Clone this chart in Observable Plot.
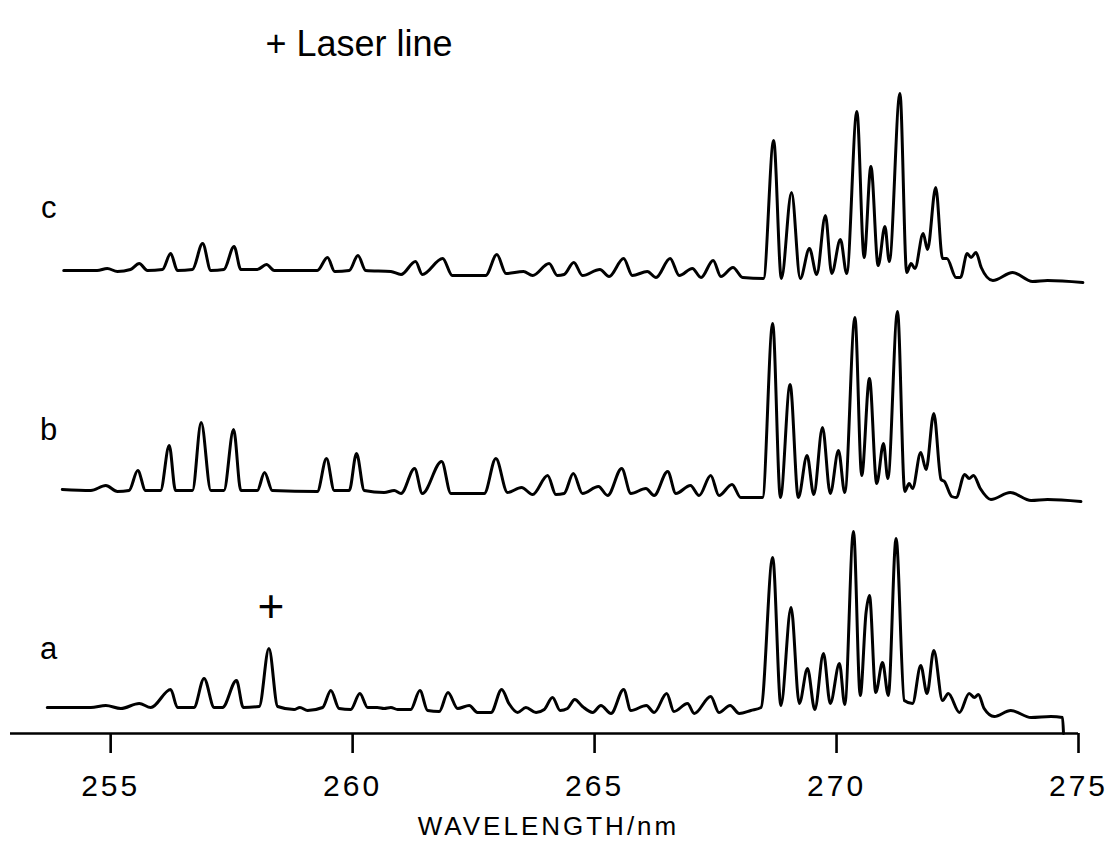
<!DOCTYPE html>
<html><head><meta charset="utf-8">
<script src="https://cdn.jsdelivr.net/npm/d3@7"></script>
<script src="https://cdn.jsdelivr.net/npm/@observablehq/plot@0.6"></script>
<style>body{margin:0;background:#fff;} svg{display:block}</style>
</head><body><div id="chart"></div>
<script>
// Spectra a, b, c (wavelength in nm, intensity in arbitrary units above each trace's baseline)
const traceNames = ["a", "b", "c"];
const traceOffsets = [26, 243, 463]; // vertical stacking offsets (arbitrary units)

const aWavelength = [253.69,254.59,254.90,255.21,255.59,255.83,256.24,256.38,256.72,256.93,257.14,257.31,257.60,257.74,258.07,258.27,258.45,258.79,258.91,259.07,259.38,259.55,259.72,259.96,260.15,260.31,260.51,260.65,260.79,260.93,261.20,261.39,261.55,261.79,261.97,262.17,262.41,262.58,262.86,263.08,263.23,263.41,263.58,263.79,263.96,264.13,264.29,264.44,264.59,264.75,264.96,265.13,265.34,265.60,265.75,266.07,266.23,266.49,266.64,266.92,267.06,267.40,267.57,267.80,267.99,268.23,268.44,268.68,268.85,269.06,269.23,269.40,269.55,269.73,269.87,270.06,270.17,270.35,270.49,270.61,270.68,270.81,270.95,271.07,271.23,271.40,271.57,271.74,271.87,272.01,272.19,272.31,272.54,272.74,272.85,272.93,273.05,273.26,273.60,274.02,274.43,274.67,274.69];
const aIntensity = [0,0,2,-1,4,0,18,0,0,29,0,0,27,0,1,59,1,-2,0,-3,0,17,-1,-2,14,0,0,-1,0,-2,-2,17,-3,-4,15,-1,2,-5,-5,18,4,-5,0,-5,-2,10,-3,-1,8,1,-5,2,-6,18,-3,2,-5,14,-4,4,-6,11,-5,2,-6,-3,0,150,2,100,4,39,-2,54,4,44,3,176,12,95,112,15,45,12,169,7,4,42,14,57,7,14,-5,14,10,13,-1,-9,-3,-10,-9,-10,-26];

const bWavelength = [254.00,254.59,254.90,255.14,255.38,255.56,255.72,256.03,256.21,256.34,256.69,256.87,257.07,257.34,257.54,257.69,258.03,258.18,258.34,259.27,259.46,259.62,259.93,260.08,260.24,260.65,260.86,261.00,261.28,261.44,261.84,262.03,262.72,262.96,263.20,263.49,263.72,264.03,264.20,264.37,264.56,264.75,265.08,265.27,265.56,265.75,266.06,266.23,266.51,266.68,266.98,267.16,267.40,267.57,267.84,268.02,268.47,268.68,268.84,269.04,269.21,269.39,269.53,269.71,269.87,270.04,270.17,270.38,270.52,270.68,270.83,270.97,271.06,271.26,271.41,271.50,271.57,271.74,271.85,272.01,272.16,272.23,272.38,272.47,272.65,272.74,272.83,272.97,273.19,273.59,274.02,274.36,275.05];
const bIntensity = [1,0,5,-1,0,20,0,0,45,0,0,68,0,0,61,0,0,18,0,-1,32,0,0,37,0,-2,0,-3,22,-3,29,-3,-3,32,-2,3,-4,15,-4,-3,17,-3,4,-5,22,-3,2,-5,19,-3,5,-5,15,-5,6,-7,-7,167,-7,106,-7,35,-4,63,-3,40,-2,173,15,112,7,47,12,179,-1,7,2,38,21,77,11,9,-6,-7,16,12,15,2,-9,-2,-10,-9,-11];

const cWavelength = [254.03,254.72,254.93,255.14,255.41,255.59,255.76,256.07,256.24,256.38,256.69,256.90,257.07,257.34,257.55,257.69,258.03,258.22,258.38,259.27,259.48,259.63,259.93,260.11,260.27,260.79,261.00,261.30,261.44,261.86,262.06,262.75,262.98,263.17,263.53,263.72,264.06,264.23,264.37,264.57,264.75,265.11,265.30,265.60,265.78,266.09,266.27,266.56,266.75,267.02,267.20,267.45,267.61,267.86,268.06,268.49,268.70,268.86,269.07,269.25,269.44,269.59,269.77,269.90,270.08,270.21,270.42,270.57,270.71,270.86,271.00,271.09,271.31,271.45,271.54,271.62,271.79,271.88,272.05,272.19,272.28,272.47,272.56,272.70,272.78,272.88,272.99,273.23,273.64,274.05,274.36,275.09];
const cIntensity = [0,0,2,-1,1,7,0,1,17,0,1,27,0,1,24,1,1,6,0,0,13,-1,0,15,0,-1,-4,9,-4,12,-5,-5,16,-3,-1,-5,7,-5,-4,8,-5,1,-6,12,-5,-1,-7,12,-5,2,-7,10,-6,3,-7,-8,130,-8,78,-8,22,-4,55,-3,31,-3,159,13,104,5,44,9,177,-2,7,2,37,21,83,12,12,-7,-7,17,13,18,3,-10,-2,-11,-10,-12];

const xTicks = [255, 260, 265, 270, 275];
const xDomain = [252.93, 275];
const xLabel = "WAVELENGTH/nm";
const titleText = "+ Laser line";
const labelWavelength = 253.72;
const labelLevels = [58, 60, 62];     // label heights above each trace's offset
const laserWavelength = 258.31;
const laserMarkLevel = 100;           // height of the "+" above trace a offset

const series = [[aWavelength, aIntensity], [bWavelength, bIntensity], [cWavelength, cIntensity]];
const rows = series.flatMap(([w, v], i) => w.map((wl, j) => ({trace: traceNames[i], wl, y: traceOffsets[i] + v[j]})));
const labels = traceNames.map((t, i) => ({t, wl: labelWavelength, y: traceOffsets[i] + labelLevels[i]}));
const laser = [{wl: laserWavelength, y: traceOffsets[0] + laserMarkLevel}];

const font = "Liberation Sans";
const chart = Plot.plot({
  width: 1108, height: 848,
  marginLeft: 10, marginRight: 30, marginTop: 0, marginBottom: 115,
  x: {domain: xDomain},
  y: {domain: [0, 733], axis: null},
  style: {fontFamily: font, background: "#fff", color: "#000"},
  marks: [
    Plot.ruleY([0], {stroke: "#000", strokeWidth: 2.6}),
    Plot.axisX({ticks: xTicks, tickSize: 20, tickPadding: 21, fontSize: 30, strokeWidth: 2.6, label: null, tickFormat: d => String(d)}),
    Plot.line(rows, {x: "wl", y: "y", z: "trace", curve: "monotone-x", stroke: "#000", strokeWidth: 3, strokeLinejoin: "round"}),
    Plot.text(labels, {x: "wl", y: "y", text: "t", fontSize: 31, textAnchor: "middle"}),
    Plot.text(laser, {x: "wl", y: "y", text: () => "+", fontSize: 46}),
    Plot.text([xLabel], {frameAnchor: "bottom", dx: 4, dy: 101, fontSize: 26, text: d => d}),
    Plot.text([titleText], {frameAnchor: "top-left", dx: 255, dy: 30, fontSize: 36, textAnchor: "start", text: d => d})
  ]
});
document.getElementById("chart").appendChild(chart);
d3.select(chart).selectAll("g[aria-label='x-axis tick label'] text").attr("letter-spacing", "3px");
d3.select(chart).selectAll("g[aria-label='text'] text").filter(function() { return this.textContent === xLabel; }).attr("letter-spacing", "3px");
</script>
</body></html>
